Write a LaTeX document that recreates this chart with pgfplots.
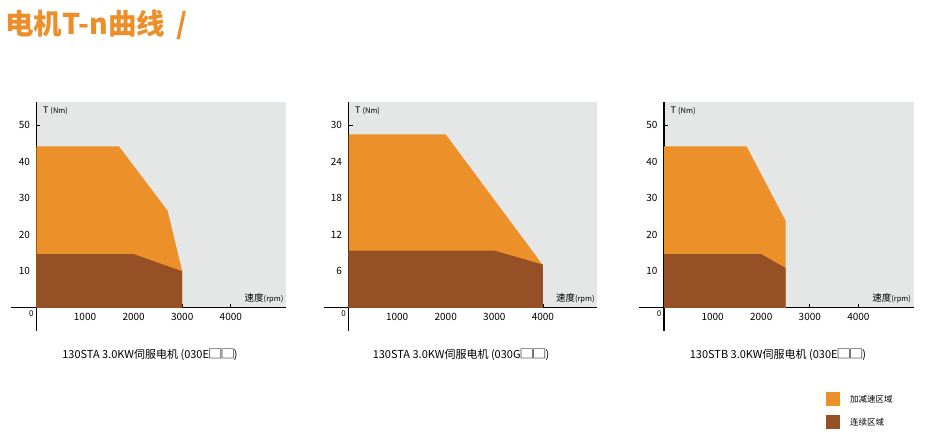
\documentclass[border=0pt]{standalone}
\usepackage{fontspec}
\setmainfont{Noto Sans CJK SC}
\usepackage{pgfplots}
\pgfplotsset{compat=1.18}
\definecolor{accel}{RGB}{236,145,41}
\definecolor{cont}{RGB}{149,80,37}
\definecolor{bg}{RGB}{229,230,230}
\definecolor{titleor}{RGB}{236,143,42}

\pgfplotsset{
  tnstyle/.style={
    anchor=south west,
    x=0.0486pt,
    xmin=0, ymin=0,
    axis lines=left,
    axis line style={-, line width=1.3pt, black},
    x axis line style={shorten <=-25pt},
    y axis line style={shorten <=-23pt},
    axis background/.style={fill=bg},
    tick align=inside,
    major tick length=4pt,
    tick style={line width=1.2pt, black},
    xtick={1000,2000,3000,4000},
    /pgf/number format/assume math mode=true,
    /pgf/number format/1000 sep={},
    ticklabel style={font=\fontsize{10}{12}\selectfont},
    xticklabel style={yshift=-2pt},
    yticklabel style={xshift=-3pt},
    clip=false,
  },
}
\newcommand{\Tlab}{{\fontsize{9}{9}\selectfont T }{\fontsize{7.5}{7.5}\selectfont (Nm)}}
\newcommand{\Nlab}{{\fontsize{9.5}{9}\selectfont 速度}{\fontsize{7.5}{7.5}\selectfont (rpm)}}
\newcommand{\bx}{\kern-1.2pt\scalebox{1.35}[1.1]{□}\kern-1.2pt}

\begin{document}
\begin{tikzpicture}
\path[use as bounding box] (0pt,0pt) rectangle (926pt,441pt);

\node[anchor=west, text=titleor, font=\bfseries\fontsize{28.5}{28.5}\selectfont, inner sep=0pt] at (5pt,416pt) {电机T-n曲线\ \,/};

% Chart 1
\begin{axis}[tnstyle, at={(36.4pt,133.2pt)}, y=3.65pt, xmax=5136, ymax=56.3, ytick={10,20,30,40,50}]
\addplot[fill=accel, draw=none] coordinates {(0,0) (0,44.2) (1700,44.2) (2700,26.6) (3000,10) (3000,0)} \closedcycle;
\addplot[fill=cont, draw=none] coordinates {(0,0) (0,14.7) (2000,14.7) (3000,10) (3000,0)} \closedcycle;
\node[anchor=west, inner sep=0pt] at (rel axis cs:0.026,0.958) {\Tlab};
\node[anchor=east, inner sep=0pt] at (rel axis cs:0.99,0.048) {\Nlab};
\node[font=\fontsize{8}{8}\selectfont, inner sep=0pt] at (axis cs:0,0) [xshift=-5pt, yshift=-6pt] {0};
\end{axis}

% Chart 2
\begin{axis}[tnstyle, at={(348.5pt,133.2pt)}, y=6.083pt, xmax=5119, ymax=33.8, ytick={6,12,18,24,30}]
\addplot[fill=accel, draw=none] coordinates {(0,0) (0,28.5) (2000,28.5) (4000,7.0) (4000,0)} \closedcycle;
\addplot[fill=cont, draw=none] coordinates {(0,0) (0,9.4) (3000,9.4) (4000,7.1) (4000,0)} \closedcycle;
\node[anchor=west, inner sep=0pt] at (rel axis cs:0.026,0.958) {\Tlab};
\node[anchor=east, inner sep=0pt] at (rel axis cs:0.99,0.048) {\Nlab};
\node[font=\fontsize{8}{8}\selectfont, inner sep=0pt] at (axis cs:0,0) [xshift=-5pt, yshift=-6pt] {0};
\end{axis}

% Chart 3
\begin{axis}[tnstyle, at={(664pt,133.2pt)}, y=3.65pt, xmax=5136, ymax=56.3, ytick={10,20,30,40,50},
  legend style={at={(0.649,-0.41)}, anchor=north west, draw=none, fill=none, row sep=9pt,
    inner sep=0pt, font=\fontsize{8.5}{8.5}\selectfont,
    /tikz/every odd column/.append style={column sep=8pt}},
  legend cell align=left,
  legend image code/.code={\fill[#1] (0pt,-7pt) rectangle (14pt,7pt);}]
\addplot[fill=accel, draw=none] coordinates {(0,0) (0,44.2) (1700,44.2) (2500,23.9) (2500,0)} \closedcycle;
\addlegendentry{加减速区域}
\addplot[fill=cont, draw=none] coordinates {(0,0) (0,14.7) (2000,14.7) (2500,10.9) (2500,0)} \closedcycle;
\addlegendentry{连续区域}
\node[anchor=west, inner sep=0pt] at (rel axis cs:0.026,0.958) {\Tlab};
\node[anchor=east, inner sep=0pt] at (rel axis cs:0.99,0.048) {\Nlab};
\node[font=\fontsize{8}{8}\selectfont, inner sep=0pt] at (axis cs:0,0) [xshift=-5pt, yshift=-6pt] {0};
\end{axis}

\node[font=\fontsize{11}{11}\selectfont] at (150pt,86pt) {130STA 3.0KW伺服电机 (030E\bx\bx)};
\node[font=\fontsize{11}{11}\selectfont] at (461pt,86pt) {130STA 3.0KW伺服电机 (030G\bx\bx)};
\node[font=\fontsize{11}{11}\selectfont] at (778pt,86pt) {130STB 3.0KW伺服电机 (030E\bx\bx)};
\end{tikzpicture}
\end{document}
